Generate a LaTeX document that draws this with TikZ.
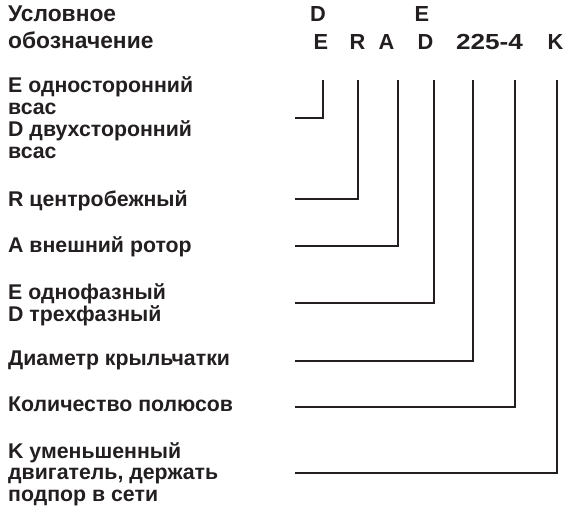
\documentclass[tikz,border=0pt]{standalone}
\usepackage{fontspec}
\setmainfont{Liberation Sans}
\definecolor{ink}{HTML}{231F20}
\begin{document}
\begin{tikzpicture}[x=1pt,y=-1pt,
  lbl/.style={anchor=base west,inner sep=0pt,align=left,text=ink,font=\fontsize{21.3}{22}\selectfont\bfseries},
  code/.style={anchor=base,inner sep=0pt,text=ink,font=\fontsize{21.8}{22}\selectfont\bfseries},
  lead/.style={draw=ink,line width=1.8pt}]
\useasboundingbox (0,0) rectangle (570,507);
          % header (multi-line nodes sit on their last baseline)
          \node[lbl,font=\fontsize{22.8}{27}\selectfont\bfseries] (title) at (8,48) {Условное\\обозначение};
          \node[code] (cD1) at (318,21) {D};
          \node[code] (cE2) at (422,21) {E};
          \node[code] (cE1) at (321,49) {E};
          \node[code] (cR) at (357.5,49) {R};
          \node[code] (cA) at (386.5,49) {A};
          \node[code] (cD2) at (425.5,49) {D};
          \node[code] (cSize) at (489.5,49) {\scalebox{1.2}[1]{225-4}};
          \node[code] (cK) at (555.5,49) {K};
          % explanations
          \node[lbl] (inlet) at (8,158) {E односторонний\\всас\\D двухсторонний\\всас};
          \node[lbl] (fan) at (8,206) {R центробежный};
          \node[lbl] (rotor) at (8,252) {A внешний ротор};
          \node[lbl] (phase) at (8,321) {E однофазный\\D трехфазный};
          \node[lbl] (diam) at (8,365) {Диаметр крыльчатки};
          \node[lbl] (poles) at (8,411) {Количество полюсов};
          \node[lbl,font=\fontsize{21.3}{21.3}\selectfont\bfseries] (small) at (8,501) {K уменьшенный\\двигатель, держать\\подпор в сети};
          % leader lines
          \coordinate (tInlet) at (323,80);
          \coordinate (hInlet) at (295,118);
          \coordinate (tFan) at (358,80);
          \coordinate (hFan) at (295,199);
          \coordinate (tRotor) at (398,80);
          \coordinate (hRotor) at (295,246);
          \coordinate (tPhase) at (434,80);
          \coordinate (hPhase) at (295,303);
          \coordinate (tDiam) at (473,80);
          \coordinate (hDiam) at (295,361);
          \coordinate (tPoles) at (515,80);
          \coordinate (hPoles) at (295,407);
          \coordinate (tSmall) at (557,80);
          \coordinate (hSmall) at (295,473);
          \draw[lead] (tInlet) |- (hInlet);
          \draw[lead] (tFan) |- (hFan);
          \draw[lead] (tRotor) |- (hRotor);
          \draw[lead] (tPhase) |- (hPhase);
          \draw[lead] (tDiam) |- (hDiam);
          \draw[lead] (tPoles) |- (hPoles);
          \draw[lead] (tSmall) |- (hSmall);
        \end{tikzpicture}
\end{document}
